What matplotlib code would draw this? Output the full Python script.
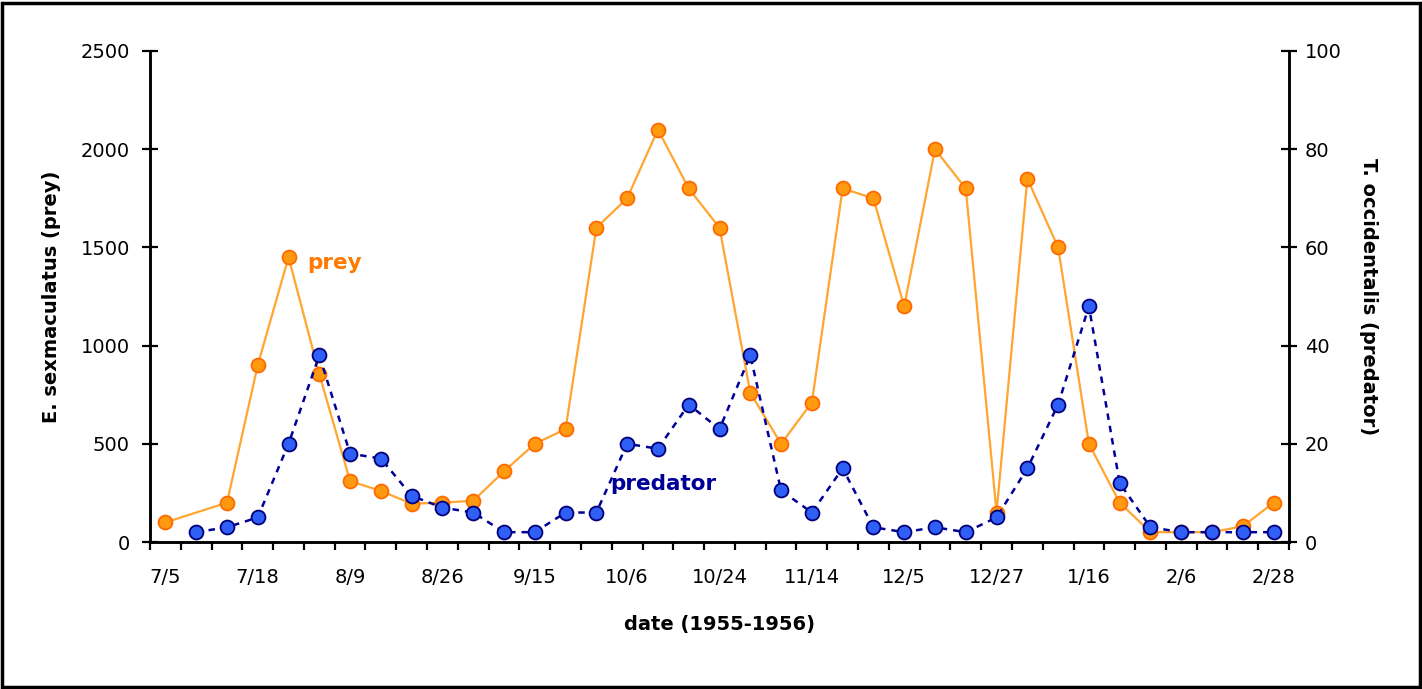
import numpy as np
import matplotlib
matplotlib.use("Agg")
import matplotlib.pyplot as plt
from matplotlib.patches import Rectangle

# ---- data (category index = sampling date, every 3rd labelled) ----
tick_labels = ["7/5", "7/18", "8/9", "8/26", "9/15", "10/6", "10/24",
               "11/14", "12/5", "12/27", "1/16", "2/6", "2/28"]
label_step = 3
n_categories = 37

prey = [100, None, 200, 900, 1450, 855, 310, 260, 195, 200, 210, 360, 500,
        575, 1600, 1750, 2100, 1800, 1600, 760, 500, 710, 1800, 1750, 1200,
        2000, 1800, 150, 1850, 1500, 500, 200, 50, 50, 50, 80, 200]
predator = [None, 2, 3, 5, 20, 38, 18, 17, 9.4, 7, 6, 2, 2,
            6, 6, 20, 19, 28, 23, 38, 10.5, 6, 15, 3, 2,
            3, 2, 5, 15, 28, 48, 12, 3, 2, 2, 2, 2]

# ---- figure ----
W, H, DPI = 1422, 689, 100
fig = plt.figure(figsize=(W / DPI, H / DPI), dpi=DPI)
fig.patch.set_facecolor("white")

L, R, B, T = 150, 1289, 542, 51
ax = fig.add_axes([L / W, 1 - B / H, (R - L) / W, (B - T) / H])
ax2 = ax.twinx()

fs = 14

x_prey = [i for i, v in enumerate(prey) if v is not None]
y_prey = [v for v in prey if v is not None]
x_pred = [i for i, v in enumerate(predator) if v is not None]
y_pred = [v for v in predator if v is not None]

ax2.plot(x_pred, y_pred, linestyle=(0, (2.6, 2.4)), color="#000099", lw=1.8,
         marker="o", ms=10, mfc="#2F5FF5", mec="#00007A", mew=1.3, zorder=3)
ax.plot(x_prey, y_prey, linestyle="-", color="#FFA530", lw=1.6,
        marker="o", ms=10, mfc="#FF9A10", mec="#FF6A00", mew=1.3, zorder=2)

ax.set_zorder(ax2.get_zorder() - 1)
ax.patch.set_visible(False)
ax2.patch.set_visible(False)

ax.set_xlim(-0.5, n_categories - 0.5)
ax.set_ylim(0, 2500)
ax2.set_ylim(0, 100)

ax.set_yticks(np.arange(0, 2501, 500))
ax2.set_yticks(np.arange(0, 101, 20))

major = np.arange(0, n_categories, label_step)
ax.set_xticks(major)
ax.set_xticklabels(tick_labels)
ax.set_xticks(np.arange(-0.5, n_categories, 1), minor=True)
ax.tick_params(axis="x", which="major", length=0, pad=19, labelsize=fs)
ax.tick_params(axis="x", which="minor", length=6, width=1.6, direction="out")

ax.tick_params(axis="y", direction="inout", length=11, width=1.6, pad=9,
               labelsize=fs)
ax2.tick_params(axis="y", direction="inout", length=11, width=1.6, pad=6,
                labelsize=fs)

for a in (ax, ax2):
    a.spines["top"].set_visible(False)
    for s in ("left", "right", "bottom"):
        a.spines[s].set_linewidth(1.8)
        a.spines[s].set_color("black")

ax.set_ylabel("E. sexmaculatus (prey)", fontsize=fs, fontweight="bold",
              labelpad=14)
ax2.set_ylabel("T. occidentalis (predator)", fontsize=fs, fontweight="bold",
               rotation=-90, labelpad=26)
ax.set_xlabel("date (1955-1956)", fontsize=fs, fontweight="bold", labelpad=20)

ax.text(4.6, 1420, "prey", color="#FF7A00", fontsize=fs + 1.5,
        fontweight="bold", va="center", ha="left")
ax.text(14.45, 295, "predator", color="#000099", fontsize=fs + 1.5,
        fontweight="bold", va="center", ha="left")

# outer frame
fig.patches.append(Rectangle((2 / W, 2 / H), (W - 4.5) / W, (H - 4.5) / H,
                             transform=fig.transFigure, fill=False,
                             edgecolor="black", lw=2.5))

fig.savefig("out.png", dpi=DPI, facecolor="white")
